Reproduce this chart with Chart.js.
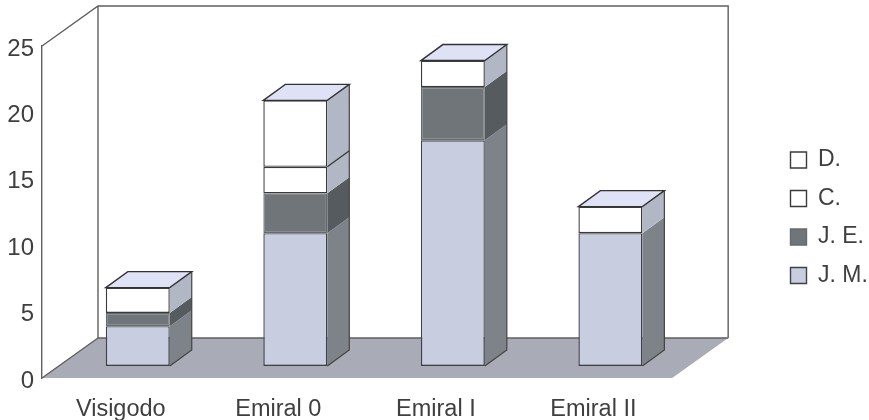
<!DOCTYPE html>
<html>
<head>
<meta charset="utf-8">
<style>html,body{margin:0;padding:0;background:#fff}#w{position:relative;width:869px;height:420px}</style>
<script src="https://cdn.jsdelivr.net/npm/chart.js@4"></script>
</head>
<body>
<div id="w"><canvas id="c" width="869" height="420"></canvas></div>
<script>
const categories = ['Visigodo', 'Emiral 0', 'Emiral I', 'Emiral II'];
const jm = [3, 10, 17, 10];
const je = [1, 3, 4, 0];
const c = [1.9, 2, 2, 2];
const d = [0, 5, 0, 0];
const tickMax = 25;
const tickStep = 5;

const textColor = '#3f3f3f';
const fontFamily = '"Liberation Sans", Arial, sans-serif';
const shift = {x: 17, y: -12};     // bars stand mid-way into the floor
const depth = {x: 22, y: -16};     // bar depth
const wall = {x: 56, y: -40};      // chart depth

function poly(ctx, pts, fill, stroke, lw) {
  ctx.beginPath();
  pts.forEach((p, i) => i ? ctx.lineTo(p[0], p[1]) : ctx.moveTo(p[0], p[1]));
  ctx.closePath();
  if (fill) { ctx.fillStyle = fill; ctx.fill(); }
  if (stroke) { ctx.strokeStyle = stroke; ctx.lineWidth = lw || 1.2; ctx.stroke(); }
}

const room = {
  id: 'room',
  afterLayout(chart) {
    const l = chart.legend, w = l.right - l.left, h = l.bottom - l.top;
    l.left = 775; l.right = l.left + w;
    l.top = 133; l.bottom = l.top + h;
  },
  beforeDatasetsDraw(chart) {
    const {ctx, chartArea: a} = chart;
    const L = a.left, R = a.right, T = a.top, B = a.bottom;
    const dx = wall.x, dy = wall.y;
    poly(ctx, [[L, B], [L + dx, B + dy], [R + dx, B + dy], [R, B]], '#a9acb6');
    ctx.strokeStyle = '#5f5f5f'; ctx.lineWidth = 1.4;
    ctx.beginPath();
    ctx.moveTo(L, T); ctx.lineTo(L + dx, T + dy);
    ctx.lineTo(R + dx, T + dy); ctx.lineTo(R + dx, B + dy);
    ctx.moveTo(L + dx, T + dy); ctx.lineTo(L + dx, B + dy); ctx.lineTo(R + dx, B + dy);
    ctx.moveTo(L + dx, B + dy); ctx.lineTo(L, B);
    ctx.stroke();

    ctx.save();
    ctx.translate(shift.x, shift.y);
    const sets = chart.data.datasets;
    categories.forEach((_, j) => {
      let top = null;
      sets.forEach((ds, i) => {
        const el = chart.getDatasetMeta(i).data[j];
        if (!ds.data[j]) return;
        const r = el.x + el.width / 2;
        poly(ctx, [[r, el.base], [r + depth.x, el.base + depth.y], [r + depth.x, el.y + depth.y], [r, el.y]], ds.sideColor);
        top = el;
      });
      const l = top.x - top.width / 2, r = top.x + top.width / 2;
      const base = chart.getDatasetMeta(0).data[j].base;
      // C.'s upper edge continues round the side where D. sits on top of it
      const cEl = chart.getDatasetMeta(2).data[j];
      if (top !== cEl) {
        ctx.beginPath();
        ctx.moveTo(r, cEl.y); ctx.lineTo(r + depth.x, cEl.y + depth.y);
        ctx.strokeStyle = '#333'; ctx.lineWidth = 1.2; ctx.stroke();
      }
      poly(ctx, [[l, top.y], [l + depth.x, top.y + depth.y], [r + depth.x, top.y + depth.y], [r, top.y]], '#dfe2f6', '#333', 1.4);
      ctx.strokeStyle = '#444'; ctx.lineWidth = 1.2;
      ctx.beginPath();
      ctx.moveTo(r, base); ctx.lineTo(r + depth.x, base + depth.y); ctx.lineTo(r + depth.x, top.y + depth.y);
      ctx.stroke();
    });
  },
  afterDatasetsDraw(chart) {
    chart.ctx.restore();
  }
};

new Chart(document.getElementById('c'), {
  type: 'bar',
  data: {
    labels: categories,
    datasets: [
      {label: 'J. M.', data: jm, backgroundColor: '#c9cde0', borderColor: '#3e4148', sideColor: '#7d8389'},
      {label: 'J. E.', data: je, backgroundColor: '#6f7579', borderColor: '#666b6f', sideColor: '#565b5f'},
      {label: 'C.', data: c, backgroundColor: '#ffffff', borderColor: '#3a3a3a', sideColor: '#b2b7c5'},
      {label: 'D.', data: d, backgroundColor: '#ffffff', borderColor: '#3a3a3a', sideColor: '#b2b7c5'}
    ]
  },
  options: {
    responsive: false,
    animation: false,
    layout: {padding: {top: 46, right: 94, left: 0, bottom: 0}},
    datasets: {bar: {categoryPercentage: 1, barPercentage: 0.406, borderWidth: 1.4, borderSkipped: false}},
    scales: {
      x: {
        stacked: true,
        grid: {display: false, drawTicks: false},
        border: {display: false},
        ticks: {color: textColor, font: {family: fontFamily, size: 23.5}, padding: 17, maxRotation: 0, autoSkip: false},
        afterFit(s) { s.height = 42; }
      },
      y: {
        stacked: true,
        min: 0,
        max: tickMax,
        grid: {display: false, drawTicks: false},
        border: {display: true, color: '#5f5f5f', width: 1.4},
        ticks: {stepSize: tickStep, color: textColor, font: {family: fontFamily, size: 24}, padding: 8, labelOffset: 3},
        afterFit(s) { s.width = 42; }
      }
    },
    plugins: {
      title: {display: false},
      tooltip: {enabled: false},
      legend: {
        display: true,
        position: 'right',
        align: 'start',
        reverse: true,
        labels: {color: textColor, font: {family: fontFamily, size: 23}, boxWidth: 16, boxHeight: 16, padding: 15.5}
      }
    }
  },
  plugins: [room]
});
</script>
</body>
</html>
